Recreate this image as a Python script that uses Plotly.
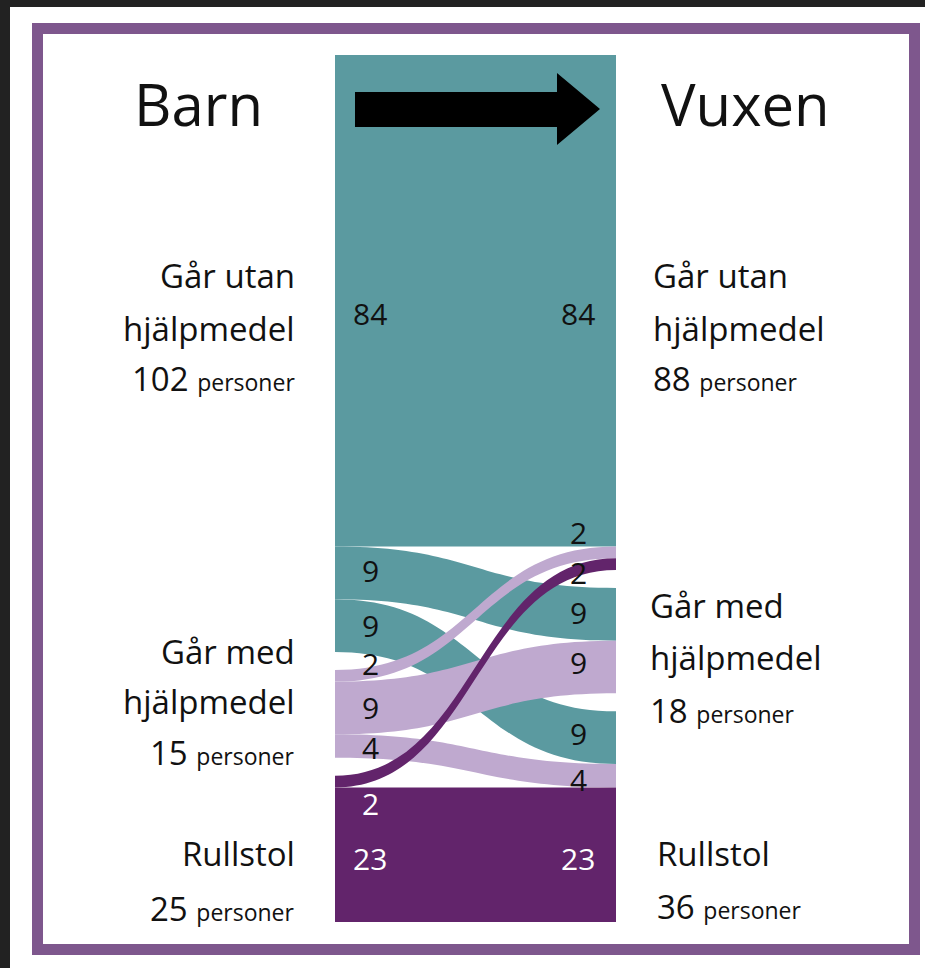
import plotly.graph_objects as go

# ---------------- data ----------------
node_names = ["Går utan hjälpmedel", "Går med hjälpmedel", "Rullstol",
              "Går utan hjälpmedel", "Går med hjälpmedel", "Rullstol"]
node_totals = [102, 15, 25, 88, 18, 36]
link_source = [0, 0, 0, 1, 1, 1, 2, 2]
link_target = [3, 4, 5, 3, 4, 5, 3, 5]
link_value = [84, 9, 9, 2, 9, 4, 2, 23]
column_titles = ["Barn", "Vuxen"]
label_line1 = ["Går utan", "Går med", "Rullstol", "Går utan", "Går med", "Rullstol"]
label_line2 = ["hjälpmedel", "hjälpmedel", None, "hjälpmedel", "hjälpmedel", None]
unit_word = "personer"

# ---------------- style ----------------
W, H = 925, 968
TEAL = "#5b9aa0"
LIGHT = "#bfa9cf"
DARK = "#62246b"
FRAME = "#7e578d"
FONT = "Open Sans"
TXT = "#111111"
src_colors = {0: TEAL, 1: LIGHT, 2: DARK}

SX0, SX1 = 334, 617      # sankey horizontal extent (px)
SY0, SY1 = 55, 922       # sankey vertical extent (px)
PAD = 18


def fx(x):
    return x / W


def fy(y):
    return 1 - y / H


fig = go.Figure()

fig.add_trace(go.Sankey(
    arrangement="snap",
    domain=dict(x=[fx(SX0), fx(SX1)], y=[fy(SY1), fy(SY0)]),
    node=dict(label=["" for _ in node_names], customdata=node_names,
              pad=PAD, thickness=1,
              color="rgba(0,0,0,0)", line=dict(width=0),
              hovertemplate="%{customdata}: %{value}<extra></extra>"),
    link=dict(source=link_source, target=link_target, value=link_value,
              color=[src_colors[s] for s in link_source],
              line=dict(width=0)),
))

# ---------- compute band positions (same layout rule as the sankey) ----------
left_nodes = [0, 1, 2]
right_nodes = [3, 4, 5]
col_total = max(sum(node_totals[i] for i in left_nodes), sum(node_totals[i] for i in right_nodes))
ky = (SY1 - SY0 - 2 * PAD) / col_total
node_top = {}
for col in (left_nodes, right_nodes):
    y = SY0
    for n in col:
        node_top[n] = y
        y += node_totals[n] * ky + PAD

left_center = {}
right_center = {}
for n in left_nodes:
    y = node_top[n]
    for k in sorted([k for k in range(len(link_value)) if link_source[k] == n], key=lambda k: link_target[k]):
        h = link_value[k] * ky
        left_center[k] = y + h / 2
        y += h
for n in right_nodes:
    y = node_top[n]
    for k in sorted([k for k in range(len(link_value)) if link_target[k] == n], key=lambda k: link_source[k]):
        h = link_value[k] * ky
        right_center[k] = y + h / 2
        y += h

# small nudges for readability (px)
left_nudge = {0: 13, 1: -2, 2: 0, 3: -12, 4: 0, 5: 2, 6: 22, 7: 4}
right_nudge = {0: 13, 1: -2, 2: -4, 3: -20, 4: -4, 5: 4, 6: 8, 7: 4}
NUM_SIZE = 30

annotations = []
for k, v in enumerate(link_value):
    lc = "white" if link_source[k] == 2 else TXT
    rc = "white" if (link_source[k] == 2 and link_target[k] == 5) else TXT
    annotations.append(dict(x=fx(370), y=fy(left_center[k] + left_nudge.get(k, 0)),
                            text=str(v), showarrow=False, xanchor="center", yanchor="middle",
                            font=dict(family=FONT, size=NUM_SIZE, color=lc)))
    annotations.append(dict(x=fx(578), y=fy(right_center[k] + right_nudge.get(k, 0)),
                            text=str(v), showarrow=False, xanchor="center", yanchor="middle",
                            font=dict(family=FONT, size=NUM_SIZE, color=rc)))

# column titles
for title, cx in zip(column_titles, (198, 745)):
    annotations.append(dict(x=fx(cx), y=fy(103), text=title, showarrow=False,
                            xanchor="center", yanchor="middle",
                            font=dict(family=FONT, size=58, color=TXT)))

# node labels (line y positions in px)
label_lines_y = {
    0: [275, 328, 378],
    1: [651, 701, 752],
    2: [853, 908],
    3: [275, 328, 378],
    4: [605, 657, 710],
    5: [853, 906],
}
label_x = {0: 297, 1: 297, 2: 297, 3: 651, 4: 648, 5: 655}
for n in range(len(node_names)):
    lines = [label_line1[n]]
    if label_line2[n]:
        lines.append(label_line2[n])
    lines.append(f"{node_totals[n]} <span style='font-size:23px'>{unit_word}</span>")
    anchor = "right" if n in left_nodes else "left"
    for txt, yy in zip(lines, label_lines_y[n]):
        annotations.append(dict(x=fx(label_x[n]), y=fy(yy), text=txt, showarrow=False,
                                xanchor=anchor, yanchor="middle",
                                font=dict(family=FONT, size=33, color=TXT)))

# ---------------- shapes ----------------
shapes = [
    # white page
    dict(type="rect", xref="paper", yref="paper", x0=fx(10), x1=1.01, y0=-0.01, y1=fy(7),
         fillcolor="white", line=dict(width=0), layer="below"),
    # frame
    dict(type="rect", xref="paper", yref="paper", x0=fx(37.5), x1=fx(914.5), y0=fy(949.5), y1=fy(28.5),
         fillcolor="rgba(0,0,0,0)", line=dict(color=FRAME, width=11), layer="below"),
]
arrow_pts = [(355, 92), (557, 92), (557, 73), (600, 109), (557, 145), (557, 127), (355, 127)]
path = "M " + " L ".join(f"{fx(x):.5f},{fy(y):.5f}" for x, y in arrow_pts) + " Z"
shapes.append(dict(type="path", xref="paper", yref="paper", path=path,
                   fillcolor="black", line=dict(width=0), layer="above"))

fig.update_layout(
    width=W, height=H,
    margin=dict(l=0, r=0, t=0, b=0),
    paper_bgcolor="#222222",
    plot_bgcolor="white",
    annotations=annotations,
    shapes=shapes,
    font=dict(family=FONT),
)

fig.write_html("out.html",
               config={"displayModeBar": False},
               post_script="document.body.style.margin='0';document.body.style.overflow='hidden';")
